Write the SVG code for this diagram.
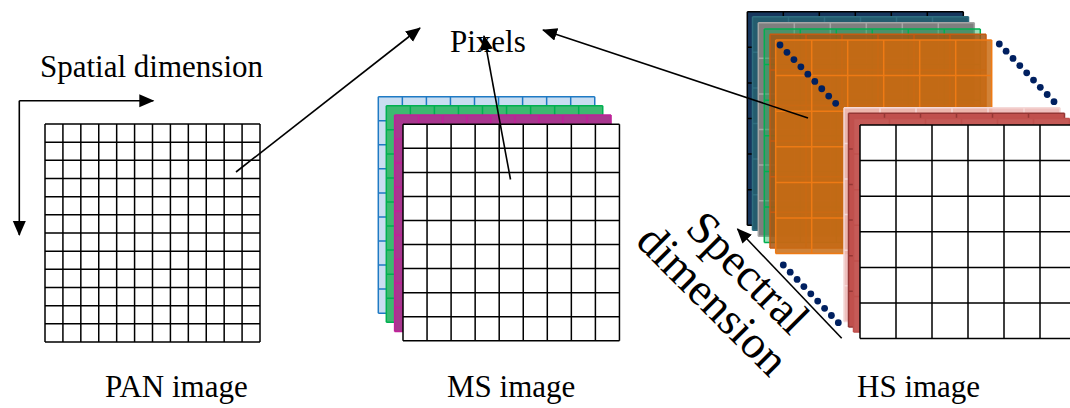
<svg xmlns="http://www.w3.org/2000/svg" width="1070" height="408" viewBox="0 0 1070 408">
<style>
.t{font-family:"Liberation Serif","Times New Roman",serif;font-size:31px;fill:#000}
.ts{font-family:"Liberation Serif","Times New Roman",serif;font-size:46px;fill:#000}
.k{fill:none;stroke:#000;stroke-width:1.5}
.g{fill:none;stroke-width:1.5}
.c{fill:none;stroke:#000;stroke-width:1.6}
.d{fill:#002060}
</style>
<defs>
<marker id="ah" markerUnits="userSpaceOnUse" markerWidth="16" markerHeight="14" refX="14" refY="6.5" orient="auto">
<path d="M0,0 L15,6.5 L0,13 z" fill="#000"/>
</marker>
<path id="g9" d="M0 0H216.45M0 24.05H216.45M0 48.1H216.45M0 72.15H216.45M0 96.2H216.45M0 120.25H216.45M0 144.3H216.45M0 168.35H216.45M0 192.4H216.45M0 216.45H216.45M0 0V216.45M24.05 0V216.45M48.1 0V216.45M72.15 0V216.45M96.2 0V216.45M120.25 0V216.45M144.3 0V216.45M168.35 0V216.45M192.4 0V216.45M216.45 0V216.45"/>
<path id="g6" d="M0 0H216M0 35.6H216M0 71.2H216M0 106.8H216M0 142.4H216M0 178H216M0 213.6H216M0 0V213.6M36 0V213.6M72 0V213.6M108 0V213.6M144 0V213.6M180 0V213.6M216 0V213.6"/>
</defs>
<rect width="1070" height="408" fill="#fff"/>

<g id="pan">
<rect x="45" y="124" width="215" height="218" fill="#fff"/>
<path class="k" d="M45 124H260M45 142.17H260M45 160.33H260M45 178.5H260M45 196.67H260M45 214.83H260M45 233H260M45 251.17H260M45 269.33H260M45 287.5H260M45 305.67H260M45 323.83H260M45 342H260M45 124V342M62.92 124V342M80.83 124V342M98.75 124V342M116.67 124V342M134.58 124V342M152.5 124V342M170.42 124V342M188.33 124V342M206.25 124V342M224.17 124V342M242.08 124V342M260 124V342"/>
<text class="t" x="105" y="397">PAN image</text>
</g>

<g id="ms">
<g transform="translate(378.3,96.7)"><rect width="216.45" height="216.45" fill="#c9ddf1"/><use href="#g9" class="g" stroke="#1f7ac4"/></g>
<g transform="translate(386.3,105.8)"><rect width="216.45" height="216.45" fill="#3dba70"/><use href="#g9" class="g" stroke="#00b050"/></g>
<g transform="translate(394.6,115)"><rect width="216.45" height="216.45" fill="#a8378f"/><use href="#g9" class="g" stroke="#c0209a"/></g>
<g transform="translate(403,124.3)"><rect width="216.45" height="216.45" fill="#fff"/><use href="#g9" class="g" stroke="#000"/></g>
<text class="t" x="447" y="397">MS image</text>
</g>

<g id="hs">
<g transform="translate(747.3,11.7)"><rect width="216" height="213.6" fill="#17375e"/><use href="#g6" class="g" stroke="#000"/></g>
<g transform="translate(752.5,16.7)"><rect width="216" height="213.6" fill="#245c6e"/><use href="#g6" class="g" stroke="#2f6e80"/></g>
<g transform="translate(758.3,22.7)"><rect width="216" height="213.6" fill="#7f7f7f"/><use href="#g6" class="g" stroke="#a6a6a6"/></g>
<g transform="translate(764.3,29)"><rect width="216" height="213.6" fill="#00b050" fill-opacity="0.4"/><use href="#g6" class="g" stroke="#00b050"/></g>
<g transform="translate(770,34.3)"><rect width="216" height="213.6" fill="#a85512" fill-opacity="0.85"/><use href="#g6" class="g" stroke="#c55a11"/></g>
<g transform="translate(775.7,40)"><rect width="216" height="213.6" fill="#c96c14" fill-opacity="0.85"/><use href="#g6" class="g" stroke="#ee7a14"/></g>
<g transform="translate(844,107.8)"><rect width="216" height="213.6" fill="#eebcba" fill-opacity="0.92"/><use href="#g6" class="g" stroke="#f5d9d8"/></g>
<g transform="translate(848.5,113.3)"><rect width="216" height="213.6" fill="#c0504d"/><use href="#g6" class="g" stroke="#953735"/></g>
<g transform="translate(853.5,118.5)"><rect width="216" height="213.6" fill="#c55a57"/><use href="#g6" class="g" stroke="#c0504d"/></g>
<g transform="translate(860,125)"><rect width="216" height="213.6" fill="#fff"/><use href="#g6" class="g" stroke="#000"/></g>
<g class="d">
<circle cx="780" cy="45" r="3.4"/><circle cx="786.96" cy="52.29" r="3.4"/><circle cx="793.92" cy="59.58" r="3.4"/><circle cx="800.88" cy="66.87" r="3.4"/><circle cx="807.84" cy="74.16" r="3.4"/><circle cx="814.8" cy="81.45" r="3.4"/><circle cx="821.76" cy="88.74" r="3.4"/><circle cx="828.72" cy="96.03" r="3.4"/><circle cx="835.68" cy="103.32" r="3.4"/>
<circle cx="999.3" cy="44" r="3.4"/><circle cx="1006.1" cy="51.2" r="3.4"/><circle cx="1013" cy="58.4" r="3.4"/><circle cx="1019.8" cy="65.6" r="3.4"/><circle cx="1026.7" cy="72.8" r="3.4"/><circle cx="1033.5" cy="80.1" r="3.4"/><circle cx="1040.3" cy="87.3" r="3.4"/><circle cx="1047.2" cy="94.5" r="3.4"/><circle cx="1054" cy="101.7" r="3.4"/>
<circle cx="783.3" cy="265" r="3.4"/><circle cx="790.2" cy="272.2" r="3.4"/><circle cx="797.1" cy="279.4" r="3.4"/><circle cx="803.9" cy="286.6" r="3.4"/><circle cx="810.8" cy="293.8" r="3.4"/><circle cx="817.7" cy="301.1" r="3.4"/><circle cx="824.6" cy="308.3" r="3.4"/><circle cx="831.4" cy="315.5" r="3.4"/><circle cx="838.3" cy="322.7" r="3.4"/>
</g>
<text class="t" x="857" y="397">HS image</text>
</g>

<g id="labels">
<text class="t" x="40" y="77">Spatial dimension</text>
<text class="t" x="450" y="52">Pixels</text>
<g transform="translate(684,230) rotate(45)">
<text class="ts" x="0" y="0">Spectral</text>
<text class="ts" x="-26" y="44.5">dimension</text>
</g>
</g>

<g id="connectors">
<path class="c" d="M19.3 100.7H153.3" marker-end="url(#ah)"/>
<path class="c" d="M19.3 100.7V235" marker-end="url(#ah)"/>
<path class="c" d="M236 172L420 28" marker-end="url(#ah)"/>
<path class="c" d="M510.5 179.5L484 36" marker-end="url(#ah)"/>
<path class="c" d="M808 118L543 30" marker-end="url(#ah)"/>
<path class="c" d="M841.7 338.3L737.5 229" marker-end="url(#ah)"/>
</g>
</svg>
